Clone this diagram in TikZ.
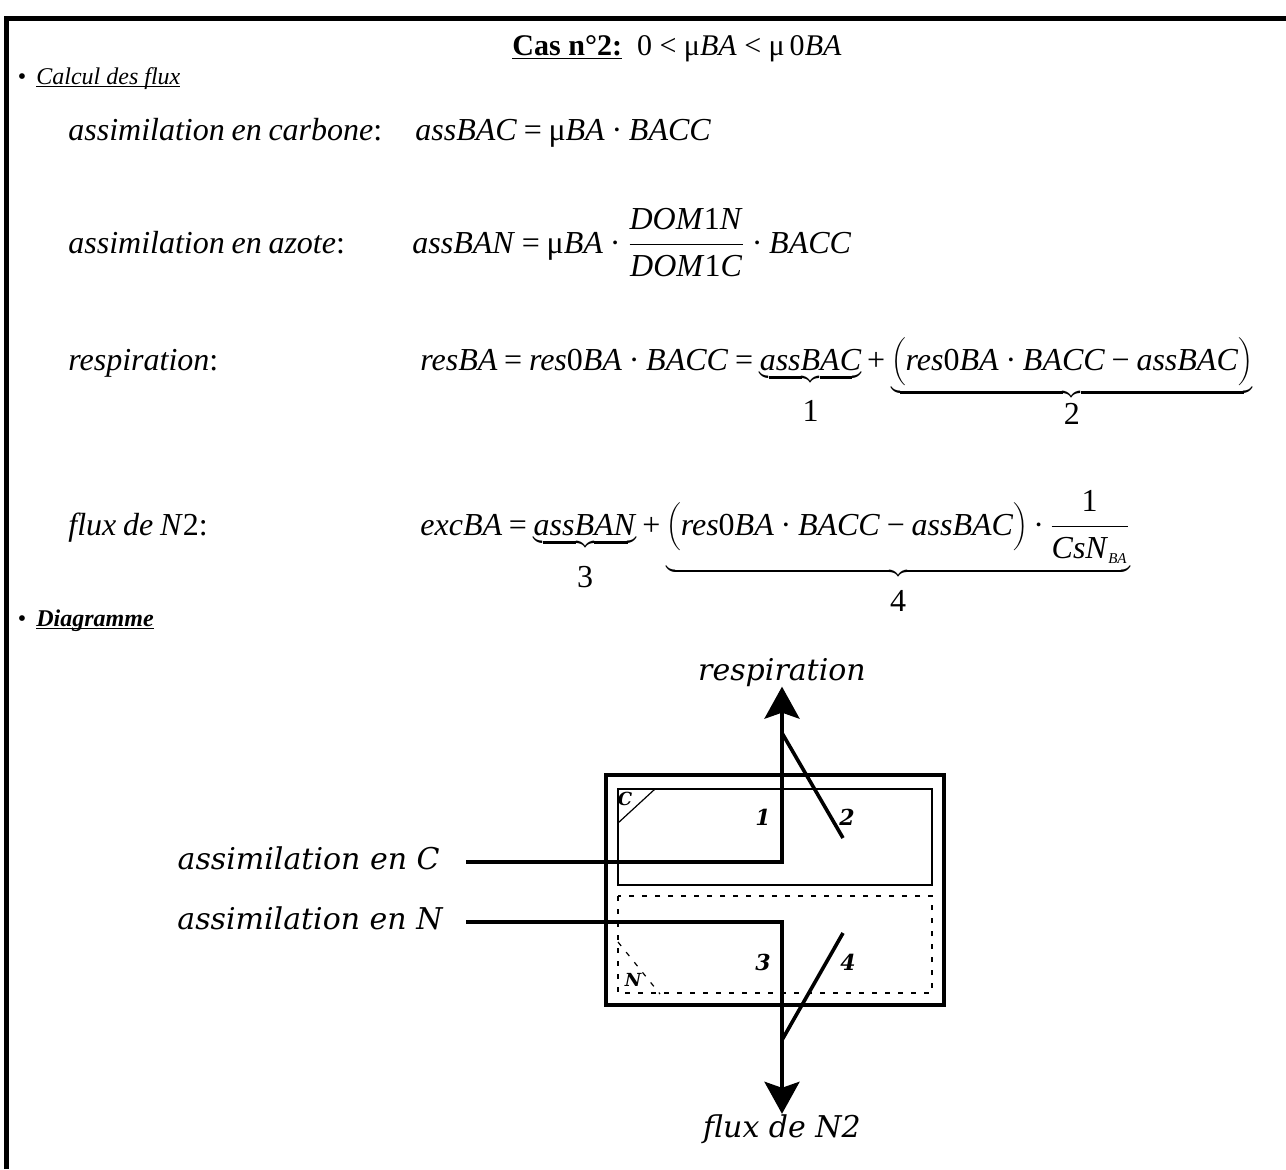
\documentclass[tikz,border=0pt]{standalone}
\usepackage{fontspec}
\setmainfont{Liberation Serif}
\newfontfamily\schfont{DejaVu Serif}
\usetikzlibrary{arrows.meta}

\newcommand\eqfont{\fontsize{16}{19}\selectfont\spaceskip=0.21em\relax}
\newcommand\subba{\hbox{\fontsize{7.5}{9}\selectfont\textit{BA}}}
\newcommand\brnum[2]{\hbox{\rule{0pt}{#1}#2}}
\newcommand\tplus{\mathbin{\hbox{+}}}

\begin{document}
\begin{tikzpicture}[x=0.5pt,y=-0.5pt,
    eqtext/.style={font=\eqfont, anchor=base west, inner sep=0pt},
    headtext/.style={font=\fontsize{12}{14}\selectfont, anchor=base west, inner sep=0pt},
    lbltext/.style={font=\schfont\itshape\fontsize{15}{18}\selectfont, inner sep=0pt},
    numtext/.style={font=\schfont\bfseries\itshape\fontsize{11}{13}\selectfont, inner sep=0pt},
    corner/.style={font=\schfont\bfseries\itshape\fontsize{9}{10}\selectfont, inner sep=0pt},
    flow/.style={line width=2pt, -{Stealth[length=16pt,width=17.5pt,inset=3pt]}},
    split/.style={line width=1.8pt},
    thinbox/.style={line width=0.6pt},
    dashbox/.style={line width=0.6pt, dash pattern=on 2.5pt off 4pt}]
    \useasboundingbox (0,0) rectangle (1286,1169);

    % Frame
    \draw[line width=2.5pt] (6,1169) -- (6,18) -- (1286,18);

    % Title and headings
    \node[font=\fontsize{15}{18}\selectfont, anchor=base, inner sep=0pt] (title) at (677,55)
        {\underline{\textbf{Cas n°2:}}\enspace 0 < μ\textit{BA} < μ\,0\textit{BA}};
    \node[headtext, anchor=base] (dotCalc) at (22,84) {\textbullet};
    \node[headtext] (headCalc) at (36,84) {\underline{\smash{\textit{Calcul des flux}}}};
    \node[headtext, anchor=base] (dotDiag) at (22,626) {\textbullet};
    \node[headtext] (headDiag) at (36,626) {\underline{\smash{\textbf{\textit{Diagramme}}}}};

    % Flux equations
    \node[eqtext] (lblC) at (68,140) {\textit{assimilation en carbone}:};
    \node[eqtext] (eqC) at (415,140) {\textit{assBAC} = μ\textit{BA} · \textit{BACC}};

    \node[eqtext] (lblN) at (68,253) {\textit{assimilation en azote}:};
    \node[eqtext] (eqN) at (412,253) {\textit{assBAN} = μ\textit{BA} ·
        $\displaystyle\frac{\hbox{\textit{DOM}1\textit{N}}}{\hbox{\textit{DOM}1\textit{C}}}$ · \textit{BACC}};

    \node[eqtext] (lblR) at (68,370) {\textit{respiration}:};
    \node[eqtext] (eqR) at (420,370) {\textit{resBA} = \textit{res}0\textit{BA} · \textit{BACC} =
        $\displaystyle\underbrace{\hbox{\textit{assBAC}}}_{\brnum{16.5pt}{1}}
        \tplus\underbrace{\biggl(\hbox{\textit{res}0\textit{BA} · \textit{BACC} − \textit{assBAC}}\biggr)}_{\hbox{2}}$};

    \node[eqtext] (lblX) at (68,535) {\textit{flux de N}2:};
    \node[eqtext] (eqX) at (420,535) {\textit{excBA} =
        $\displaystyle\underbrace{\hbox{\textit{assBAN}}}_{\brnum{17pt}{3}}
        \tplus\underbrace{\biggl(\hbox{\textit{res}0\textit{BA} · \textit{BACC} − \textit{assBAC}}\biggr)\hbox{\,·\,}
        \frac{\hbox{1}}{\hbox{\textit{CsN}}_{\subba}}}_{\brnum{15pt}{4}}$};

    % Compartment
    \draw[line width=2pt] (606,775) rectangle (944,1005);
    \draw[thinbox] (618,789) rectangle (932,885);
    \draw[dashbox] (618,896) rectangle (932,993);
    \draw[thinbox] (655,789) -- (618,823);
    \draw[dashbox] (618,942) -- (660,994);
    \node[corner] (cornC) at (625,799) {C};
    \node[corner] (cornN) at (633,980) {N};

    % Flows in and out
    \node[lbltext, anchor=base east] (assC) at (440,869) {assimilation en C};
    \node[lbltext, anchor=base east] (assN) at (443,929) {assimilation en N};
    \node[lbltext, anchor=base] (resp) at (782,680) {respiration};
    \node[lbltext, anchor=base] (fluxN) at (782,1137) {flux de N2};

    \draw[flow] ([xshift=13pt,yshift=-2.25pt]assC.east) -| (resp.south);
    \draw[flow] ([xshift=11.5pt,yshift=-2.25pt]assN.east) -| (fluxN.north);

    % Split of the flows
    \coordinate (sp2a) at (782,733);
    \coordinate (sp2b) at (843,838);
    \draw[split] (sp2a) -- (sp2b);
    \coordinate (sp4a) at (782,1040);
    \coordinate (sp4b) at (843,933);
    \draw[split] (sp4a) -- (sp4b);

    \node[numtext] (num1) at (763,817) {1};
    \node[numtext] (num2) at (847,817) {2};
    \node[numtext] (num3) at (763,962) {3};
    \node[numtext] (num4) at (848,962) {4};
\end{tikzpicture}
\end{document}
